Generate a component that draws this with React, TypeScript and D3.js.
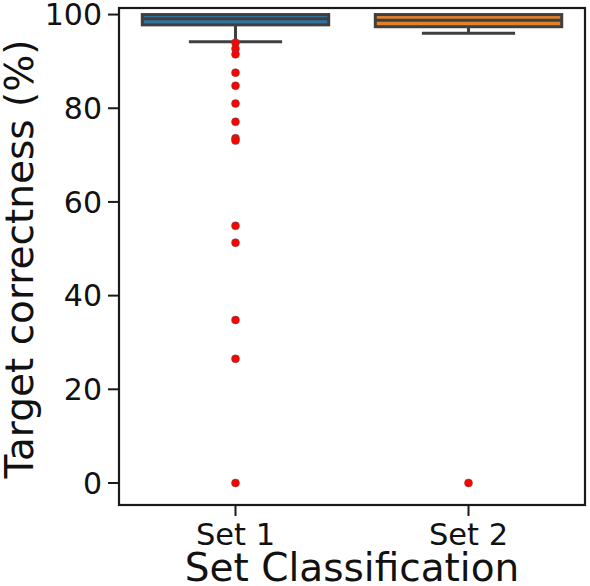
import React from "react";
import * as d3 from "d3";

const categories = ["Set 1", "Set 2"];
const q1 = [97.8, 97.4];
const medians = [99.1, 98.8];
const q3 = [100, 100];
const whiskerLow = [94.2, 96.0];
const whiskerHigh = [100, 100];
const boxColors = ["#3274a1", "#e1812c"];
const outliersSet1 = [94.0, 92.7, 91.5, 87.6, 84.8, 81.0, 77.1, 73.6, 73.1, 54.9, 51.3, 34.8, 26.5, 0];
const outliersSet2 = [0];
const outliers = [outliersSet1, outliersSet2];
const yTicks = [0, 20, 40, 60, 80, 100];

const App = () => {
  const width = 590,
    height = 586;
  const left = 119,
    right = 585,
    top = 8,
    bottom = 505;

  const x = d3.scaleBand().domain(categories).range([left, right]).paddingInner(0).paddingOuter(0);
  const y = d3.scaleLinear().domain([-4.7, 101.4]).range([bottom, top]);
  const bw = x.bandwidth();
  const boxW = bw * 0.8;
  const font = "DejaVu Sans, sans-serif";
  const edge = "#3f3f3f";

  return (
    <svg width={width} height={height} style={{ position: "absolute", left: 0, top: 0 }}>
      <rect width={width} height={height} fill="#fff" />
      {categories.map((c, i) => {
        const cx = (x(c) as number) + bw / 2;
        return (
          <g key={c}>
            {/* whisker */}
            <line x1={cx} x2={cx} y1={y(q1[i])} y2={y(whiskerLow[i])} stroke={edge} strokeWidth={3} />
            <line x1={cx - boxW / 4} x2={cx + boxW / 4} y1={y(whiskerLow[i])} y2={y(whiskerLow[i])} stroke={edge} strokeWidth={3} />
            <line x1={cx} x2={cx} y1={y(q3[i])} y2={y(whiskerHigh[i])} stroke={edge} strokeWidth={3} />
            <rect
              x={cx - boxW / 2}
              y={y(q3[i])}
              width={boxW}
              height={y(q1[i]) - y(q3[i])}
              fill={boxColors[i]}
              stroke={edge}
              strokeWidth={3}
            />
            <line x1={cx - boxW / 2} x2={cx + boxW / 2} y1={y(medians[i])} y2={y(medians[i])} stroke={edge} strokeWidth={3} />
            {outliers[i].map((v, j) => (
              <circle key={j} cx={cx} cy={y(v)} r={4} fill="#ff0000" stroke="#555" strokeWidth={0.5} />
            ))}
          </g>
        );
      })}
      {/* spines */}
      <rect x={left} y={top} width={right - left} height={bottom - top} fill="none" stroke="#1a1a1a" strokeWidth={2.2} />
      {yTicks.map((t) => (
        <g key={t}>
          <line x1={left - 11} x2={left} y1={y(t)} y2={y(t)} stroke="#1a1a1a" strokeWidth={2} />
          <text x={left - 17} y={y(t)} dy="0.36em" textAnchor="end" fontFamily={font} fontSize={30} fill="#111">
            {t}
          </text>
        </g>
      ))}
      {categories.map((c) => {
        const cx = (x(c) as number) + bw / 2;
        return (
          <g key={c}>
            <line x1={cx} x2={cx} y1={bottom} y2={bottom + 11} stroke="#1a1a1a" strokeWidth={2} />
            <text x={cx} y={bottom + 40} textAnchor="middle" fontFamily={font} fontSize={30.5} fill="#111">
              {c}
            </text>
          </g>
        );
      })}
      <text x={(left + right) / 2 + 0} y={581} textAnchor="middle" fontFamily={font} fontSize={39} fill="#111">
        Set Classification
      </text>
      <text
        transform={`translate(33,259) rotate(-90)`}
        textAnchor="middle"
        fontFamily={font}
        fontSize={39}
        fill="#111"
      >
        Target correctness (%)
      </text>
    </svg>
  );
};

export default App;
